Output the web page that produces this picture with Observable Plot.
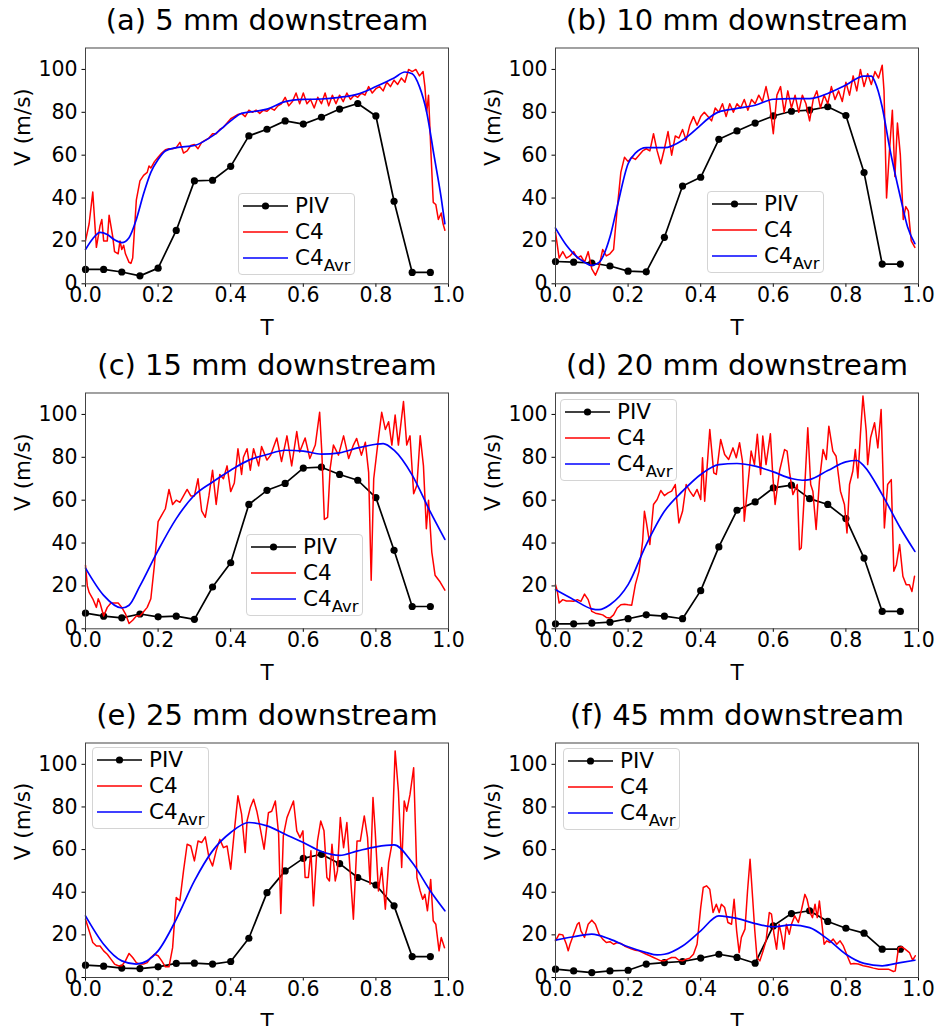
<!DOCTYPE html>
<html><head><meta charset="utf-8">
<script src="https://cdn.jsdelivr.net/npm/d3@7"></script>
<script src="https://cdn.jsdelivr.net/npm/@observablehq/plot@0.6"></script>
<style>
body{margin:0;background:#fff;}
#fig{position:relative;width:936px;height:1026px;font-family:"DejaVu Sans",sans-serif;overflow:hidden;background:#fff;}
.panel{position:absolute;}
.panel svg{overflow:visible;}
.legend{position:absolute;width:117px;height:82px;box-sizing:border-box;border:1px solid #d4d4d4;border-radius:4px;background:rgba(255,255,255,0.85);}
.row{position:absolute;left:0;height:26px;width:115px;}
.row svg{position:absolute;left:4px;top:7px;}
.row span{position:absolute;left:56px;top:0;line-height:26px;font-size:21.5px;color:#000;white-space:nowrap;}
.row sub{font-size:16.5px;vertical-align:-5.5px;line-height:0;}
</style></head>
<body><div id="fig"></div>
<script>
const titles = ["(a) 5 mm downstream","(b) 10 mm downstream","(c) 15 mm downstream","(d) 20 mm downstream","(e) 25 mm downstream","(f) 45 mm downstream"];
const xTicks = [0,0.2,0.4,0.6,0.8,1.0];
const yTicks = [0,20,40,60,80,100];
const pivT = [0,0.05,0.1,0.15,0.2,0.25,0.3,0.35,0.4,0.45,0.5,0.55,0.6,0.65,0.7,0.75,0.8,0.85,0.9,0.95];

const pivA = [6.7,6.7,5.5,3.7,7.3,24.9,48,48.3,54.8,69,72.1,76,74.5,77.7,81.5,84.1,78.3,38.5,5.3,5.3];
const pivB = [10.4,10.1,9.7,8.3,5.9,5.6,21.7,45.6,49.7,67.4,71.3,75,78.3,80.5,81,82.6,78.5,51.9,9.2,9.2];
const pivC = [7.3,5.9,5.1,6.9,5.6,5.9,4.4,19.5,30.8,58,64.6,67.8,75,75.4,72,69.3,61.2,36.6,10.4,10.4];
const pivD = [2.3,2.3,2.6,3.1,4.7,6.5,5.9,4.7,17.8,38.2,55.3,59.2,65.7,67,60.7,58,51.4,33,8.1,8.1];
const pivE = [5.8,5.3,4.4,4.2,5,6.6,6.7,6.3,7.5,18.4,39.8,50,55.9,57.8,53.4,46.9,43.4,33.6,9.8,9.8];
const pivF = [3.9,3.1,2.3,3.1,3.4,6.3,7,7.5,9.1,10.9,9.4,6.7,24.2,30,31.3,26.3,23.1,20.8,13.3,13.3];

const avrA = [[0,16],[0.02,21],[0.04,24],[0.06,23],[0.08,20.5],[0.1,19.2],[0.12,21.5],[0.14,30],[0.16,42],[0.18,52],[0.2,58],[0.22,62],[0.25,63.5],[0.3,64.5],[0.35,69],[0.4,76],[0.43,79.5],[0.47,80.5],[0.5,81.5],[0.55,85],[0.6,86],[0.65,86.2],[0.7,87],[0.75,88.5],[0.8,92],[0.85,96],[0.88,98.8],[0.9,98],[0.92,92],[0.94,80],[0.96,60],[0.98,40],[0.99,28]];
const avrB = [[0,26],[0.03,18],[0.05,14],[0.08,10],[0.1,8.6],[0.12,10],[0.15,21.8],[0.17,36],[0.2,56],[0.22,61],[0.25,63.5],[0.3,63.5],[0.35,67],[0.4,74],[0.42,77],[0.45,80.2],[0.5,81.8],[0.55,83.3],[0.6,86.1],[0.65,86.4],[0.7,86.4],[0.75,88.8],[0.8,92.7],[0.85,96.9],[0.87,96.9],[0.88,94.2],[0.9,82.5],[0.92,63.9],[0.95,40.5],[0.97,26.5],[0.99,18.7]];
const avrC = [[0,28.3],[0.05,15.6],[0.1,9.7],[0.12,11],[0.15,20],[0.2,36.6],[0.25,51.4],[0.3,62.3],[0.35,68.5],[0.4,74],[0.45,78.7],[0.5,81.3],[0.55,83.3],[0.6,82.9],[0.65,81.5],[0.7,82.1],[0.75,84.4],[0.8,86.1],[0.82,86.4],[0.85,83.3],[0.9,71.7],[0.95,54.5],[0.99,41.7]];
const avrD = [[0,18.2],[0.05,13.6],[0.1,9.3],[0.12,8.9],[0.15,11.2],[0.2,20.6],[0.25,39.3],[0.3,54.8],[0.35,64.2],[0.4,72],[0.45,76.6],[0.5,77.1],[0.55,75.9],[0.6,73.2],[0.65,70.1],[0.68,69.3],[0.7,69.6],[0.75,73.8],[0.8,77.9],[0.83,78.5],[0.85,75.9],[0.9,62.6],[0.95,47],[0.99,36.1]];
const avrE = [[0,28.9],[0.05,15.6],[0.1,7.8],[0.14,6.3],[0.2,12.5],[0.25,27.3],[0.3,45.3],[0.35,59.4],[0.4,68],[0.45,72.7],[0.5,71.1],[0.55,67.2],[0.6,63.3],[0.65,59.1],[0.7,57.3],[0.75,59.4],[0.8,61.3],[0.85,62.2],[0.9,53.9],[0.95,40.6],[0.99,31.3]];
const avrF = [[0,17.5],[0.05,19.1],[0.1,20.3],[0.15,18],[0.2,14.4],[0.25,11.7],[0.28,10.6],[0.3,10.9],[0.35,14.8],[0.4,21.9],[0.45,28.9],[0.5,27.7],[0.55,25.3],[0.6,23.8],[0.65,24.7],[0.7,23.4],[0.75,18],[0.8,10.9],[0.85,6.6],[0.9,5.5],[0.95,7],[0.99,8.1]];

const c4A = [[0,20],[0.01,28],[0.02,42.8],[0.03,17],[0.04,27],[0.045,30],[0.05,20],[0.06,20],[0.065,32],[0.075,22],[0.08,15],[0.09,14],[0.095,20],[0.1,16],[0.105,18],[0.11,14],[0.12,10],[0.125,9.5],[0.13,12],[0.14,39],[0.15,48],[0.16,50.6],[0.17,52],[0.175,55],[0.18,54],[0.19,57],[0.2,59],[0.21,61],[0.22,62.5],[0.23,63],[0.24,63],[0.25,63.5],[0.26,66],[0.27,61],[0.28,62],[0.29,64.5],[0.3,65],[0.31,63],[0.32,66],[0.33,67],[0.34,68],[0.35,70],[0.36,70],[0.37,72],[0.38,73],[0.39,75],[0.4,77],[0.41,78],[0.42,79],[0.43,79.5],[0.44,78],[0.45,81],[0.46,80],[0.47,81],[0.48,79.5],[0.49,81],[0.5,80.5],[0.51,82],[0.52,81],[0.53,83],[0.54,84],[0.55,87],[0.56,83],[0.57,85],[0.58,89],[0.59,84],[0.6,89],[0.61,84],[0.62,86],[0.63,82],[0.64,87],[0.65,84],[0.66,89],[0.67,83],[0.68,88],[0.69,84],[0.7,88],[0.71,85],[0.72,89],[0.73,86],[0.74,88],[0.75,87],[0.76,89],[0.77,88],[0.78,92],[0.79,89],[0.8,91],[0.81,92],[0.82,90],[0.83,94],[0.84,92],[0.85,95],[0.86,93],[0.87,96],[0.88,94],[0.89,100],[0.9,99],[0.91,100],[0.92,97],[0.93,99],[0.935,92],[0.94,80],[0.945,88],[0.952,60],[0.958,38],[0.965,37],[0.972,30],[0.98,33],[0.985,28],[0.99,25]];
const c4B = [[0,24],[0.01,12],[0.02,15],[0.03,12],[0.04,13],[0.05,15],[0.06,12],[0.07,13],[0.08,10],[0.09,15],[0.1,7],[0.11,4],[0.12,8],[0.13,16],[0.14,13],[0.15,14],[0.16,16],[0.17,35],[0.18,52],[0.19,59],[0.2,57],[0.21,59],[0.22,58],[0.23,60],[0.24,62],[0.25,63],[0.26,62],[0.27,70],[0.28,62],[0.29,56],[0.3,63],[0.31,71],[0.32,60],[0.33,69],[0.34,68],[0.35,72],[0.36,67],[0.37,74],[0.38,78],[0.39,74],[0.4,78],[0.41,80],[0.42,78],[0.43,76],[0.44,82],[0.45,80],[0.46,84],[0.47,78],[0.48,84],[0.49,80],[0.5,84],[0.51,82],[0.52,86],[0.53,81],[0.54,86],[0.55,84],[0.56,88],[0.57,85],[0.58,92],[0.59,84],[0.6,70],[0.61,88],[0.62,92],[0.63,80],[0.64,90],[0.65,82],[0.66,88],[0.67,80],[0.68,88],[0.69,84],[0.7,76],[0.71,86],[0.72,90],[0.73,82],[0.74,88],[0.75,84],[0.76,92],[0.77,86],[0.78,90],[0.79,85],[0.8,94],[0.81,88],[0.82,97],[0.83,90],[0.84,100],[0.85,92],[0.86,98],[0.87,93],[0.88,99],[0.89,96],[0.9,102],[0.905,90],[0.912,40],[0.92,62],[0.928,81],[0.935,50],[0.942,75],[0.95,60],[0.958,30],[0.965,36],[0.972,34],[0.98,20],[0.99,17]];
const c4C = [[0,29.6],[0.005,20],[0.01,17],[0.02,14],[0.03,10],[0.035,14],[0.04,12],[0.05,6],[0.06,10],[0.07,12],[0.08,12],[0.09,12],[0.1,10],[0.11,7],[0.12,2.5],[0.13,4],[0.14,6],[0.15,6],[0.16,8],[0.17,10],[0.18,14],[0.19,30],[0.2,50],[0.21,53],[0.22,56],[0.23,65],[0.24,58],[0.25,60],[0.26,59],[0.27,62],[0.28,65],[0.29,62],[0.3,62],[0.31,70],[0.32,55],[0.33,52],[0.34,62],[0.35,74],[0.36,58],[0.37,72],[0.38,70],[0.39,76],[0.4,64],[0.41,68],[0.42,84],[0.43,72],[0.435,80],[0.445,84],[0.454,74],[0.463,84],[0.477,76],[0.485,85],[0.5,78.7],[0.51,81],[0.527,89],[0.54,78],[0.555,90],[0.568,76],[0.582,92],[0.59,82.5],[0.605,89],[0.618,79.4],[0.633,85.7],[0.645,101],[0.651,82.5],[0.658,51],[0.667,52],[0.674,74.8],[0.683,85.7],[0.697,81],[0.711,90],[0.725,79.4],[0.738,85.7],[0.747,88.8],[0.76,81],[0.771,87],[0.78,73],[0.787,22.6],[0.794,70],[0.807,88.8],[0.816,101],[0.826,93],[0.835,96.6],[0.844,85.7],[0.853,99.7],[0.862,85.7],[0.876,106],[0.885,85.7],[0.894,90],[0.904,63],[0.913,67],[0.922,90],[0.931,76],[0.939,46.7],[0.945,60],[0.954,35.8],[0.963,25],[0.977,21.8],[0.99,18]];
const c4D = [[0,20.6],[0.005,17.5],[0.01,12],[0.02,13.6],[0.03,13],[0.04,13],[0.05,12.8],[0.06,13.6],[0.07,12.8],[0.08,16.2],[0.09,13.6],[0.1,8.1],[0.11,7.3],[0.12,6.9],[0.13,6.5],[0.14,5.3],[0.15,5],[0.16,6.5],[0.17,9.7],[0.18,11.2],[0.19,11.5],[0.2,11.2],[0.21,11],[0.22,20.6],[0.23,26.8],[0.24,40.8],[0.245,54.8],[0.25,50],[0.26,39.3],[0.27,58],[0.28,60.3],[0.29,64.5],[0.3,62.1],[0.31,63.4],[0.32,64.2],[0.33,67.3],[0.34,49.4],[0.35,54.8],[0.36,67.3],[0.37,64.2],[0.38,61.8],[0.39,65],[0.4,60.3],[0.405,79.8],[0.411,59.5],[0.425,93],[0.436,72.7],[0.443,72],[0.455,88.3],[0.466,81.3],[0.477,79],[0.489,84.4],[0.498,79.8],[0.507,86.8],[0.515,78.2],[0.52,50.2],[0.53,67.3],[0.539,82.9],[0.548,76.6],[0.556,90.7],[0.565,72],[0.571,89.9],[0.58,76.6],[0.592,91],[0.599,70.4],[0.605,58],[0.617,73.5],[0.631,83.6],[0.638,82.9],[0.645,72.7],[0.654,62.6],[0.666,67.3],[0.672,36.9],[0.677,37.7],[0.686,64.2],[0.695,93.8],[0.703,67.3],[0.709,64.2],[0.718,46.3],[0.727,68.8],[0.737,83.6],[0.746,79],[0.753,94.5],[0.764,82.9],[0.773,80.5],[0.785,64.2],[0.796,58],[0.803,44.7],[0.81,67.3],[0.819,73.5],[0.826,83.6],[0.833,70.4],[0.84,90.7],[0.847,108.6],[0.856,92.2],[0.86,76.6],[0.868,89.1],[0.879,96.1],[0.888,84.4],[0.897,102.3],[0.902,73.5],[0.906,47],[0.915,67.3],[0.925,69.6],[0.932,26.8],[0.939,29.9],[0.948,39.3],[0.957,24.5],[0.966,20.6],[0.975,20.6],[0.982,17.4],[0.989,24.5]];
const c4E = [[0,27.3],[0.01,21.9],[0.02,16.4],[0.03,14.8],[0.04,14.8],[0.05,12.5],[0.06,10.9],[0.07,8.6],[0.08,6.3],[0.09,5.5],[0.1,5.5],[0.11,7.8],[0.12,11.3],[0.13,9.4],[0.14,7],[0.15,6.3],[0.16,6.3],[0.17,7],[0.18,9.4],[0.19,10.9],[0.2,10.2],[0.21,7.8],[0.22,5],[0.23,5],[0.24,14],[0.25,37.5],[0.26,36],[0.27,50],[0.28,62.5],[0.29,61.7],[0.3,54.7],[0.31,64],[0.32,63.3],[0.33,66],[0.34,56.3],[0.35,52.3],[0.36,59.4],[0.37,64.8],[0.38,60.9],[0.39,61.7],[0.4,50.8],[0.41,68.8],[0.42,85.2],[0.43,76.6],[0.44,58.6],[0.445,73.4],[0.454,79.7],[0.463,83.6],[0.472,78],[0.481,70.3],[0.492,60.2],[0.504,77.3],[0.513,78],[0.523,82.8],[0.532,67.2],[0.538,30],[0.545,66.4],[0.555,75],[0.564,78.9],[0.573,82.8],[0.582,68.8],[0.591,65.6],[0.599,68.8],[0.605,46.9],[0.614,46.9],[0.621,59.4],[0.628,33.6],[0.639,64],[0.648,73.4],[0.657,68.8],[0.665,46.9],[0.672,45.3],[0.679,62.5],[0.688,45.3],[0.694,50],[0.702,75],[0.711,60.9],[0.72,72.7],[0.729,50],[0.738,27.3],[0.748,64],[0.757,64],[0.768,75.8],[0.777,65.6],[0.784,43.8],[0.792,84.4],[0.798,68.8],[0.807,40.6],[0.816,51.6],[0.826,32],[0.835,53.9],[0.844,62.5],[0.853,106.3],[0.862,87.5],[0.871,51.6],[0.878,82.8],[0.885,78],[0.894,85.9],[0.904,98.4],[0.913,46.9],[0.922,40.6],[0.929,36.7],[0.935,39],[0.942,31.3],[0.951,46],[0.958,26.6],[0.965,25],[0.974,12.5],[0.98,18.8],[0.989,14]];
const c4F = [[0,17.2],[0.01,20.3],[0.02,20],[0.03,15.6],[0.035,12.5],[0.04,15.6],[0.05,20.3],[0.06,25],[0.065,25.8],[0.07,21.9],[0.08,18.8],[0.09,25],[0.1,26.9],[0.11,25],[0.12,20.3],[0.13,18],[0.14,16.4],[0.15,16.8],[0.16,15.6],[0.17,16.4],[0.18,16],[0.19,14.8],[0.2,14],[0.21,13.3],[0.22,12.8],[0.23,12.5],[0.24,11.7],[0.25,10.9],[0.26,10.2],[0.27,9.4],[0.28,8.6],[0.29,7.8],[0.3,7.8],[0.31,8.6],[0.32,9.4],[0.33,9.4],[0.34,8.1],[0.35,7.8],[0.36,8.6],[0.37,9.1],[0.38,10.9],[0.39,15.6],[0.4,32.8],[0.407,42.2],[0.416,43],[0.425,41.4],[0.434,30.5],[0.443,34.4],[0.451,30.5],[0.457,34.4],[0.466,32.8],[0.475,25.8],[0.485,25],[0.492,36.7],[0.499,21.9],[0.506,11.7],[0.512,18.8],[0.522,22.7],[0.529,40.6],[0.536,55.5],[0.543,37.5],[0.549,21.9],[0.555,9.4],[0.563,7.8],[0.572,12.5],[0.58,17.2],[0.589,30.5],[0.595,29.7],[0.602,20.3],[0.609,13.3],[0.616,25],[0.623,19.5],[0.629,13.3],[0.636,25],[0.644,20.3],[0.65,25],[0.659,28.9],[0.669,25.8],[0.678,32],[0.687,39],[0.693,36.7],[0.701,30.5],[0.708,28.1],[0.715,34.4],[0.721,28.1],[0.727,35.9],[0.733,26.6],[0.74,15.6],[0.747,17.2],[0.756,16.4],[0.765,18],[0.775,15.6],[0.784,17.2],[0.793,14.8],[0.802,10.9],[0.813,6.3],[0.822,6.6],[0.834,6.3],[0.848,5.5],[0.862,5],[0.876,4.4],[0.89,3.9],[0.904,3.9],[0.917,3.9],[0.931,2.8],[0.936,3.1],[0.945,14],[0.954,14.4],[0.963,13.3],[0.975,11.7],[0.984,8.1],[0.991,10.2]];

const panels = [
  {title: titles[0], piv: pivA, c4: c4A, avr: avrA, col: 0, row: 0, legend: [238, 193]},
  {title: titles[1], piv: pivB, c4: c4B, avr: avrB, col: 1, row: 0, legend: [707, 191]},
  {title: titles[2], piv: pivC, c4: c4C, avr: avrC, col: 0, row: 1, legend: [246, 534]},
  {title: titles[3], piv: pivD, c4: c4D, avr: avrD, col: 1, row: 1, legend: [560, 399]},
  {title: titles[4], piv: pivE, c4: c4E, avr: avrE, col: 0, row: 2, legend: [92, 747]},
  {title: titles[5], piv: pivF, c4: c4F, avr: avrF, col: 1, row: 2, legend: [563, 748]}
];
const colLeft = [0, 470];
const colMarginRight = [20, 18];
const rowTop = [0, 345, 694.7];
const rowPlotH = [235.8, 235.8, 234.5];
const MT = 47.5, ML = 85, PW = 363;

const fig = document.getElementById("fig");
const font = "'DejaVu Sans', sans-serif";

for (const p of panels) {
  const piv = p.piv.map((v, i) => ({T: pivT[i], V: v}));
  const c4 = p.c4.map(([t, v]) => ({T: t, V: v}));
  const avr = p.avr.map(([t, v]) => ({T: t, V: v}));
  const mb = p.row === 2 ? 49 : 57;
  const h = MT + rowPlotH[p.row] + mb;
  const w = ML + PW + colMarginRight[p.col];
  const chart = Plot.plot({
    width: w, height: h,
    marginLeft: ML, marginRight: colMarginRight[p.col], marginTop: MT, marginBottom: mb,
    style: {fontFamily: font, color: "#000", background: "transparent", overflow: "visible", fontSize: "20.5px"},
    x: {domain: [0, 1]},
    y: {domain: [0, 110]},
    marks: [
      Plot.axisX({ticks: xTicks, tickFormat: d => d.toFixed(1), tickSize: 3.5, tickPadding: 0, fontSize: 20.5, label: null}),
      Plot.axisY({ticks: yTicks, tickSize: 3.5, tickPadding: 4.5, fontSize: 20.5, label: null}),
      Plot.line(piv, {x: "T", y: "V", stroke: "#000", strokeWidth: 1.7}),
      Plot.dot(piv, {x: "T", y: "V", r: 3.6, fill: "#000", stroke: "none"}),
      Plot.line(c4, {x: "T", y: "V", stroke: "#ff0000", strokeWidth: 1.5}),
      Plot.line(avr, {x: "T", y: "V", stroke: "#0000ff", strokeWidth: 1.7, curve: "monotone-x"}),
      Plot.frame({stroke: "#444", strokeWidth: 1}),
      Plot.text([p.title], {text: d => d, frameAnchor: "top", dy: -27.5, fontSize: 29, lineAnchor: "middle", fill: "#000"}),
      Plot.text(["V (m/s)"], {text: d => d, frameAnchor: "left", dx: -62, rotate: -90, fontSize: 21.5, lineAnchor: "middle", fill: "#000"}),
      Plot.text(["T"], {text: d => d, frameAnchor: "bottom", dy: 44.8, fontSize: 21.5, lineAnchor: "middle", fill: "#000"})
    ]
  });
  const div = document.createElement("div");
  div.className = "panel";
  div.style.left = colLeft[p.col] + "px";
  div.style.top = rowTop[p.row] + "px";
  div.appendChild(chart);
  fig.appendChild(div);

  // legend
  const lg = document.createElement("div");
  lg.className = "legend";
  lg.style.left = p.legend[0] + "px";
  lg.style.top = p.legend[1] + "px";
  const entries = [
    {color: "#000", dot: true, html: "PIV"},
    {color: "#ff0000", dot: false, html: "C4"},
    {color: "#0000ff", dot: false, html: "C4<sub>Avr</sub>"}
  ];
  const rowY = [13, 38.8, 64.8];
  entries.forEach((e, i) => {
    const r = document.createElement("div");
    r.className = "row";
    r.style.top = (rowY[i] - 13 - 1) + "px";
    r.innerHTML = `<svg width="46" height="12"><line x1="0" y1="6" x2="45" y2="6" stroke="${e.color}" stroke-width="1.7"/>${e.dot ? '<circle cx="22.5" cy="6" r="3.6" fill="#000"/>' : ''}</svg><span>${e.html}</span>`;
    lg.appendChild(r);
  });
  fig.appendChild(lg);
}
</script>
</body></html>
